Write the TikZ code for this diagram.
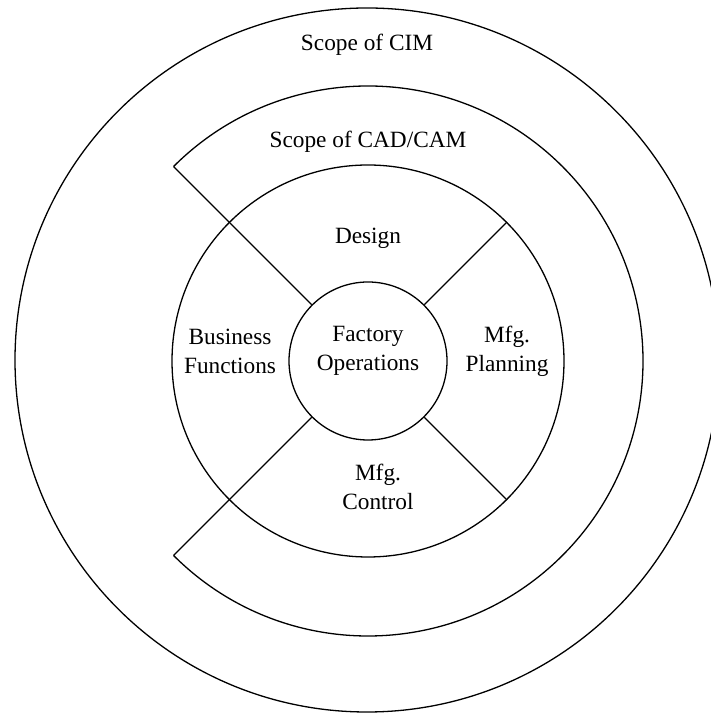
\documentclass[tikz,border=0pt]{standalone}
\usepackage{fontspec}
\setmainfont{Liberation Serif}
\usetikzlibrary{calc}
\begin{document}
\begin{tikzpicture}[x=1pt,y=1pt, line width=1.3pt,
  lbl/.style={font=\fontsize{23.3}{29}\selectfont, align=center, inner sep=0pt},
  ringc/.style={circle, draw, inner sep=0pt}]
\useasboundingbox (0,0) rectangle (710,714);
\coordinate (c) at (368,353);
\node[ringc, minimum size=704pt] (cim) at (367,354) {};
\node[ringc, minimum size=392pt] (ring) at (c) {};
\node[ringc, minimum size=158pt] (core) at (c) {};
\coordinate (cadA) at ($(c)+(135:275)$);
\coordinate (cadB) at ($(c)+(225:275)$);
\draw (cadA) arc[start angle=135, end angle=-135, radius=275];
\draw (cadA) -- (core.135);
\draw (cadB) -- (core.225);
\draw (ring.45) -- (core.45);
\draw (ring.-45) -- (core.-45);
\node[lbl] (tcim) at (367,669) {Scope of CIM};
\node[lbl] (tcad) at (368,572) {Scope of CAD/CAM};
\node[lbl] (tdes) at (368,476) {Design};
\node[lbl] (tbus) at (230,363) {Business\\Functions};
\node[lbl] (tfac) at (368,363) {Factory\\Operations};
\node[lbl] (tpla) at (507,363) {Mfg.\\Planning};
\node[lbl] (tcon) at (378,227) {Mfg.\\Control};
\end{tikzpicture}
\end{document}
